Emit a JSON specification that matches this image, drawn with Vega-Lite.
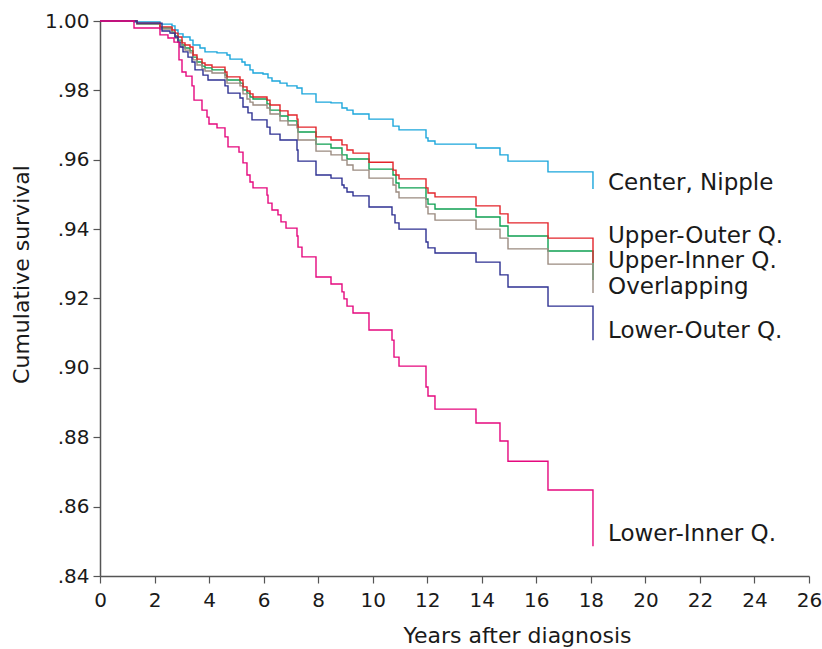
{
  "$schema": "https://vega.github.io/schema/vega-lite/v6.json",
  "width": 709,
  "height": 555,
  "autosize": {"type": "none"},
  "padding": {"left": 100, "top": 21, "right": 13, "bottom": 73},
  "background": "white",
  "config": {
    "view": {"stroke": null},
    "font": "DejaVu Sans",
    "axis": {"grid": false, "domainColor": "#555555", "tickColor": "#555555", "labelColor": "#1a1a1a", "titleColor": "#1a1a1a", "labelFont": "DejaVu Sans", "titleFont": "DejaVu Sans", "titleFontWeight": "normal", "domainWidth": 1.5, "tickWidth": 1.2}
  },
  "datasets": {
    "curves": [
      {"site": "Center, Nipple", "year": 0, "surv": 1},
      {"site": "Center, Nipple", "year": 1.247, "surv": 0.9997},
      {"site": "Center, Nipple", "year": 2.2, "surv": 0.9991},
      {"site": "Center, Nipple", "year": 2.64, "surv": 0.9986},
      {"site": "Center, Nipple", "year": 2.75, "surv": 0.9974},
      {"site": "Center, Nipple", "year": 2.86, "surv": 0.9963},
      {"site": "Center, Nipple", "year": 3.044, "surv": 0.9954},
      {"site": "Center, Nipple", "year": 3.3, "surv": 0.9945},
      {"site": "Center, Nipple", "year": 3.41, "surv": 0.9931},
      {"site": "Center, Nipple", "year": 3.667, "surv": 0.9922},
      {"site": "Center, Nipple", "year": 3.85, "surv": 0.9911},
      {"site": "Center, Nipple", "year": 4.29, "surv": 0.9908},
      {"site": "Center, Nipple", "year": 4.657, "surv": 0.9902},
      {"site": "Center, Nipple", "year": 4.767, "surv": 0.989},
      {"site": "Center, Nipple", "year": 5.207, "surv": 0.9882},
      {"site": "Center, Nipple", "year": 5.317, "surv": 0.9873},
      {"site": "Center, Nipple", "year": 5.501, "surv": 0.9859},
      {"site": "Center, Nipple", "year": 5.611, "surv": 0.985},
      {"site": "Center, Nipple", "year": 5.977, "surv": 0.9847},
      {"site": "Center, Nipple", "year": 6.161, "surv": 0.9836},
      {"site": "Center, Nipple", "year": 6.307, "surv": 0.9827},
      {"site": "Center, Nipple", "year": 6.601, "surv": 0.9821},
      {"site": "Center, Nipple", "year": 6.857, "surv": 0.9813},
      {"site": "Center, Nipple", "year": 7.224, "surv": 0.9807},
      {"site": "Center, Nipple", "year": 7.407, "surv": 0.979},
      {"site": "Center, Nipple", "year": 7.921, "surv": 0.9766},
      {"site": "Center, Nipple", "year": 8.471, "surv": 0.9764},
      {"site": "Center, Nipple", "year": 8.874, "surv": 0.9749},
      {"site": "Center, Nipple", "year": 9.058, "surv": 0.9743},
      {"site": "Center, Nipple", "year": 9.278, "surv": 0.9732},
      {"site": "Center, Nipple", "year": 9.864, "surv": 0.9717},
      {"site": "Center, Nipple", "year": 10.745, "surv": 0.9697},
      {"site": "Center, Nipple", "year": 10.965, "surv": 0.9686},
      {"site": "Center, Nipple", "year": 11.955, "surv": 0.9663},
      {"site": "Center, Nipple", "year": 12.028, "surv": 0.9654},
      {"site": "Center, Nipple", "year": 12.284, "surv": 0.9645},
      {"site": "Center, Nipple", "year": 13.788, "surv": 0.9634},
      {"site": "Center, Nipple", "year": 14.668, "surv": 0.9614},
      {"site": "Center, Nipple", "year": 14.961, "surv": 0.9596},
      {"site": "Center, Nipple", "year": 16.428, "surv": 0.9565},
      {"site": "Center, Nipple", "year": 18.078, "surv": 0.9516},

      {"site": "Upper-Inner Q.", "year": 0, "surv": 1},
      {"site": "Upper-Inner Q.", "year": 1.357, "surv": 0.9991},
      {"site": "Upper-Inner Q.", "year": 2.2, "surv": 0.998},
      {"site": "Upper-Inner Q.", "year": 2.64, "surv": 0.9968},
      {"site": "Upper-Inner Q.", "year": 2.75, "surv": 0.9957},
      {"site": "Upper-Inner Q.", "year": 2.86, "surv": 0.9945},
      {"site": "Upper-Inner Q.", "year": 3.007, "surv": 0.9931},
      {"site": "Upper-Inner Q.", "year": 3.117, "surv": 0.9922},
      {"site": "Upper-Inner Q.", "year": 3.3, "surv": 0.9914},
      {"site": "Upper-Inner Q.", "year": 3.41, "surv": 0.9896},
      {"site": "Upper-Inner Q.", "year": 3.557, "surv": 0.9882},
      {"site": "Upper-Inner Q.", "year": 3.741, "surv": 0.987},
      {"site": "Upper-Inner Q.", "year": 3.851, "surv": 0.9865},
      {"site": "Upper-Inner Q.", "year": 4.107, "surv": 0.9859},
      {"site": "Upper-Inner Q.", "year": 4.584, "surv": 0.9844},
      {"site": "Upper-Inner Q.", "year": 4.657, "surv": 0.983},
      {"site": "Upper-Inner Q.", "year": 5.134, "surv": 0.9821},
      {"site": "Upper-Inner Q.", "year": 5.244, "surv": 0.9801},
      {"site": "Upper-Inner Q.", "year": 5.391, "surv": 0.9792},
      {"site": "Upper-Inner Q.", "year": 5.501, "surv": 0.9781},
      {"site": "Upper-Inner Q.", "year": 5.611, "surv": 0.9775},
      {"site": "Upper-Inner Q.", "year": 6.124, "surv": 0.9761},
      {"site": "Upper-Inner Q.", "year": 6.234, "surv": 0.9743},
      {"site": "Upper-Inner Q.", "year": 6.601, "surv": 0.9726},
      {"site": "Upper-Inner Q.", "year": 6.894, "surv": 0.9712},
      {"site": "Upper-Inner Q.", "year": 7.224, "surv": 0.97},
      {"site": "Upper-Inner Q.", "year": 7.261, "surv": 0.968},
      {"site": "Upper-Inner Q.", "year": 7.921, "surv": 0.9645},
      {"site": "Upper-Inner Q.", "year": 8.471, "surv": 0.9634},
      {"site": "Upper-Inner Q.", "year": 8.874, "surv": 0.9614},
      {"site": "Upper-Inner Q.", "year": 9.058, "surv": 0.9602},
      {"site": "Upper-Inner Q.", "year": 9.865, "surv": 0.9573},
      {"site": "Upper-Inner Q.", "year": 10.745, "surv": 0.9556},
      {"site": "Upper-Inner Q.", "year": 10.855, "surv": 0.9533},
      {"site": "Upper-Inner Q.", "year": 10.965, "surv": 0.9519},
      {"site": "Upper-Inner Q.", "year": 11.955, "surv": 0.9487},
      {"site": "Upper-Inner Q.", "year": 12.028, "surv": 0.9472},
      {"site": "Upper-Inner Q.", "year": 12.285, "surv": 0.9458},
      {"site": "Upper-Inner Q.", "year": 13.789, "surv": 0.9435},
      {"site": "Upper-Inner Q.", "year": 14.669, "surv": 0.9409},
      {"site": "Upper-Inner Q.", "year": 14.962, "surv": 0.938},
      {"site": "Upper-Inner Q.", "year": 16.429, "surv": 0.9337},
      {"site": "Upper-Inner Q.", "year": 18.079, "surv": 0.9253},

      {"site": "Overlapping", "year": 0, "surv": 1},
      {"site": "Overlapping", "year": 1.357, "surv": 0.9991},
      {"site": "Overlapping", "year": 2.2, "surv": 0.9977},
      {"site": "Overlapping", "year": 2.64, "surv": 0.9965},
      {"site": "Overlapping", "year": 2.75, "surv": 0.9951},
      {"site": "Overlapping", "year": 2.86, "surv": 0.9939},
      {"site": "Overlapping", "year": 3.007, "surv": 0.9925},
      {"site": "Overlapping", "year": 3.117, "surv": 0.9916},
      {"site": "Overlapping", "year": 3.3, "surv": 0.9908},
      {"site": "Overlapping", "year": 3.41, "surv": 0.9888},
      {"site": "Overlapping", "year": 3.557, "surv": 0.9873},
      {"site": "Overlapping", "year": 3.741, "surv": 0.9862},
      {"site": "Overlapping", "year": 3.851, "surv": 0.9856},
      {"site": "Overlapping", "year": 4.107, "surv": 0.985},
      {"site": "Overlapping", "year": 4.584, "surv": 0.9836},
      {"site": "Overlapping", "year": 4.657, "surv": 0.9821},
      {"site": "Overlapping", "year": 5.134, "surv": 0.9813},
      {"site": "Overlapping", "year": 5.244, "surv": 0.979},
      {"site": "Overlapping", "year": 5.391, "surv": 0.9775},
      {"site": "Overlapping", "year": 5.501, "surv": 0.9766},
      {"site": "Overlapping", "year": 5.611, "surv": 0.9758},
      {"site": "Overlapping", "year": 6.124, "surv": 0.9749},
      {"site": "Overlapping", "year": 6.234, "surv": 0.9732},
      {"site": "Overlapping", "year": 6.601, "surv": 0.9712},
      {"site": "Overlapping", "year": 6.894, "surv": 0.97},
      {"site": "Overlapping", "year": 7.224, "surv": 0.9692},
      {"site": "Overlapping", "year": 7.261, "surv": 0.9657},
      {"site": "Overlapping", "year": 7.921, "surv": 0.9625},
      {"site": "Overlapping", "year": 8.471, "surv": 0.9614},
      {"site": "Overlapping", "year": 8.874, "surv": 0.9599},
      {"site": "Overlapping", "year": 9.058, "surv": 0.9585},
      {"site": "Overlapping", "year": 9.278, "surv": 0.957},
      {"site": "Overlapping", "year": 9.865, "surv": 0.9547},
      {"site": "Overlapping", "year": 10.745, "surv": 0.9527},
      {"site": "Overlapping", "year": 10.855, "surv": 0.9507},
      {"site": "Overlapping", "year": 10.965, "surv": 0.949},
      {"site": "Overlapping", "year": 11.955, "surv": 0.9464},
      {"site": "Overlapping", "year": 12.028, "surv": 0.9444},
      {"site": "Overlapping", "year": 12.285, "surv": 0.9426},
      {"site": "Overlapping", "year": 13.789, "surv": 0.94},
      {"site": "Overlapping", "year": 14.669, "surv": 0.9374},
      {"site": "Overlapping", "year": 14.962, "surv": 0.9343},
      {"site": "Overlapping", "year": 16.429, "surv": 0.9299},
      {"site": "Overlapping", "year": 18.079, "surv": 0.9216},

      {"site": "Upper-Outer Q.", "year": 0, "surv": 1},
      {"site": "Upper-Outer Q.", "year": 1.357, "surv": 0.9994},
      {"site": "Upper-Outer Q.", "year": 2.2, "surv": 0.9983},
      {"site": "Upper-Outer Q.", "year": 2.64, "surv": 0.9974},
      {"site": "Upper-Outer Q.", "year": 2.75, "surv": 0.9965},
      {"site": "Upper-Outer Q.", "year": 2.86, "surv": 0.9954},
      {"site": "Upper-Outer Q.", "year": 3.007, "surv": 0.9937},
      {"site": "Upper-Outer Q.", "year": 3.117, "surv": 0.9931},
      {"site": "Upper-Outer Q.", "year": 3.3, "surv": 0.9925},
      {"site": "Upper-Outer Q.", "year": 3.41, "surv": 0.9902},
      {"site": "Upper-Outer Q.", "year": 3.557, "surv": 0.989},
      {"site": "Upper-Outer Q.", "year": 3.741, "surv": 0.9879},
      {"site": "Upper-Outer Q.", "year": 3.851, "surv": 0.9873},
      {"site": "Upper-Outer Q.", "year": 4.107, "surv": 0.9867},
      {"site": "Upper-Outer Q.", "year": 4.584, "surv": 0.9853},
      {"site": "Upper-Outer Q.", "year": 4.657, "surv": 0.9839},
      {"site": "Upper-Outer Q.", "year": 5.134, "surv": 0.983},
      {"site": "Upper-Outer Q.", "year": 5.244, "surv": 0.981},
      {"site": "Upper-Outer Q.", "year": 5.391, "surv": 0.9798},
      {"site": "Upper-Outer Q.", "year": 5.501, "surv": 0.979},
      {"site": "Upper-Outer Q.", "year": 5.611, "surv": 0.9781},
      {"site": "Upper-Outer Q.", "year": 6.124, "surv": 0.9772},
      {"site": "Upper-Outer Q.", "year": 6.234, "surv": 0.9758},
      {"site": "Upper-Outer Q.", "year": 6.601, "surv": 0.9741},
      {"site": "Upper-Outer Q.", "year": 6.894, "surv": 0.9729},
      {"site": "Upper-Outer Q.", "year": 7.224, "surv": 0.9717},
      {"site": "Upper-Outer Q.", "year": 7.261, "surv": 0.9694},
      {"site": "Upper-Outer Q.", "year": 7.921, "surv": 0.9666},
      {"site": "Upper-Outer Q.", "year": 8.471, "surv": 0.9657},
      {"site": "Upper-Outer Q.", "year": 8.874, "surv": 0.9643},
      {"site": "Upper-Outer Q.", "year": 9.058, "surv": 0.9628},
      {"site": "Upper-Outer Q.", "year": 9.278, "surv": 0.9619},
      {"site": "Upper-Outer Q.", "year": 9.865, "surv": 0.9593},
      {"site": "Upper-Outer Q.", "year": 10.745, "surv": 0.957},
      {"site": "Upper-Outer Q.", "year": 10.855, "surv": 0.9556},
      {"site": "Upper-Outer Q.", "year": 10.965, "surv": 0.9545},
      {"site": "Upper-Outer Q.", "year": 11.955, "surv": 0.9519},
      {"site": "Upper-Outer Q.", "year": 12.028, "surv": 0.9504},
      {"site": "Upper-Outer Q.", "year": 12.285, "surv": 0.9493},
      {"site": "Upper-Outer Q.", "year": 13.789, "surv": 0.9467},
      {"site": "Upper-Outer Q.", "year": 14.669, "surv": 0.9444},
      {"site": "Upper-Outer Q.", "year": 14.962, "surv": 0.9418},
      {"site": "Upper-Outer Q.", "year": 16.429, "surv": 0.9374},
      {"site": "Upper-Outer Q.", "year": 18.079, "surv": 0.9302},

      {"site": "Lower-Outer Q.", "year": 0, "surv": 1},
      {"site": "Lower-Outer Q.", "year": 1.357, "surv": 0.9994},
      {"site": "Lower-Outer Q.", "year": 2.274, "surv": 0.9971},
      {"site": "Lower-Outer Q.", "year": 2.567, "surv": 0.9965},
      {"site": "Lower-Outer Q.", "year": 2.75, "surv": 0.9954},
      {"site": "Lower-Outer Q.", "year": 2.86, "surv": 0.9939},
      {"site": "Lower-Outer Q.", "year": 2.934, "surv": 0.9925},
      {"site": "Lower-Outer Q.", "year": 3.044, "surv": 0.9911},
      {"site": "Lower-Outer Q.", "year": 3.227, "surv": 0.9896},
      {"site": "Lower-Outer Q.", "year": 3.374, "surv": 0.9882},
      {"site": "Lower-Outer Q.", "year": 3.484, "surv": 0.9859},
      {"site": "Lower-Outer Q.", "year": 3.777, "surv": 0.9844},
      {"site": "Lower-Outer Q.", "year": 3.961, "surv": 0.983},
      {"site": "Lower-Outer Q.", "year": 4.584, "surv": 0.9813},
      {"site": "Lower-Outer Q.", "year": 4.694, "surv": 0.9792},
      {"site": "Lower-Outer Q.", "year": 5.134, "surv": 0.9778},
      {"site": "Lower-Outer Q.", "year": 5.244, "surv": 0.9752},
      {"site": "Lower-Outer Q.", "year": 5.427, "surv": 0.9735},
      {"site": "Lower-Outer Q.", "year": 5.574, "surv": 0.9715},
      {"site": "Lower-Outer Q.", "year": 6.124, "surv": 0.9694},
      {"site": "Lower-Outer Q.", "year": 6.234, "surv": 0.9674},
      {"site": "Lower-Outer Q.", "year": 6.601, "surv": 0.9657},
      {"site": "Lower-Outer Q.", "year": 7.224, "surv": 0.9628},
      {"site": "Lower-Outer Q.", "year": 7.261, "surv": 0.9596},
      {"site": "Lower-Outer Q.", "year": 7.921, "surv": 0.9556},
      {"site": "Lower-Outer Q.", "year": 8.471, "surv": 0.9547},
      {"site": "Lower-Outer Q.", "year": 8.874, "surv": 0.9527},
      {"site": "Lower-Outer Q.", "year": 8.948, "surv": 0.9519},
      {"site": "Lower-Outer Q.", "year": 9.058, "surv": 0.9507},
      {"site": "Lower-Outer Q.", "year": 9.278, "surv": 0.9496},
      {"site": "Lower-Outer Q.", "year": 9.865, "surv": 0.9464},
      {"site": "Lower-Outer Q.", "year": 10.708, "surv": 0.9441},
      {"site": "Lower-Outer Q.", "year": 10.818, "surv": 0.9418},
      {"site": "Lower-Outer Q.", "year": 10.965, "surv": 0.94},
      {"site": "Lower-Outer Q.", "year": 11.955, "surv": 0.9363},
      {"site": "Lower-Outer Q.", "year": 12.028, "surv": 0.9346},
      {"site": "Lower-Outer Q.", "year": 12.285, "surv": 0.9331},
      {"site": "Lower-Outer Q.", "year": 13.789, "surv": 0.9305},
      {"site": "Lower-Outer Q.", "year": 14.669, "surv": 0.9268},
      {"site": "Lower-Outer Q.", "year": 14.962, "surv": 0.9233},
      {"site": "Lower-Outer Q.", "year": 16.429, "surv": 0.9178},
      {"site": "Lower-Outer Q.", "year": 18.079, "surv": 0.908},

      {"site": "Lower-Inner Q.", "year": 0, "surv": 1},
      {"site": "Lower-Inner Q.", "year": 1.247, "surv": 0.998},
      {"site": "Lower-Inner Q.", "year": 2.2, "surv": 0.996},
      {"site": "Lower-Inner Q.", "year": 2.493, "surv": 0.9951},
      {"site": "Lower-Inner Q.", "year": 2.714, "surv": 0.9939},
      {"site": "Lower-Inner Q.", "year": 2.897, "surv": 0.9888},
      {"site": "Lower-Inner Q.", "year": 3.007, "surv": 0.9853},
      {"site": "Lower-Inner Q.", "year": 3.154, "surv": 0.9841},
      {"site": "Lower-Inner Q.", "year": 3.374, "surv": 0.9813},
      {"site": "Lower-Inner Q.", "year": 3.447, "surv": 0.9772},
      {"site": "Lower-Inner Q.", "year": 3.74, "surv": 0.9743},
      {"site": "Lower-Inner Q.", "year": 3.924, "surv": 0.9723},
      {"site": "Lower-Inner Q.", "year": 3.997, "surv": 0.9703},
      {"site": "Lower-Inner Q.", "year": 4.291, "surv": 0.9692},
      {"site": "Lower-Inner Q.", "year": 4.584, "surv": 0.9666},
      {"site": "Lower-Inner Q.", "year": 4.694, "surv": 0.9637},
      {"site": "Lower-Inner Q.", "year": 5.097, "surv": 0.9622},
      {"site": "Lower-Inner Q.", "year": 5.244, "surv": 0.9591},
      {"site": "Lower-Inner Q.", "year": 5.39, "surv": 0.9556},
      {"site": "Lower-Inner Q.", "year": 5.501, "surv": 0.9536},
      {"site": "Lower-Inner Q.", "year": 5.611, "surv": 0.9519},
      {"site": "Lower-Inner Q.", "year": 6.124, "surv": 0.9498},
      {"site": "Lower-Inner Q.", "year": 6.161, "surv": 0.9475},
      {"site": "Lower-Inner Q.", "year": 6.307, "surv": 0.9455},
      {"site": "Lower-Inner Q.", "year": 6.527, "surv": 0.9441},
      {"site": "Lower-Inner Q.", "year": 6.637, "surv": 0.9421},
      {"site": "Lower-Inner Q.", "year": 6.821, "surv": 0.9403},
      {"site": "Lower-Inner Q.", "year": 7.224, "surv": 0.938},
      {"site": "Lower-Inner Q.", "year": 7.261, "surv": 0.9348},
      {"site": "Lower-Inner Q.", "year": 7.407, "surv": 0.932},
      {"site": "Lower-Inner Q.", "year": 7.921, "surv": 0.9262},
      {"site": "Lower-Inner Q.", "year": 8.471, "surv": 0.9242},
      {"site": "Lower-Inner Q.", "year": 8.874, "surv": 0.9219},
      {"site": "Lower-Inner Q.", "year": 8.948, "surv": 0.9199},
      {"site": "Lower-Inner Q.", "year": 9.058, "surv": 0.9178},
      {"site": "Lower-Inner Q.", "year": 9.278, "surv": 0.9158},
      {"site": "Lower-Inner Q.", "year": 9.864, "surv": 0.9109},
      {"site": "Lower-Inner Q.", "year": 10.708, "surv": 0.908},
      {"site": "Lower-Inner Q.", "year": 10.781, "surv": 0.9031},
      {"site": "Lower-Inner Q.", "year": 10.965, "surv": 0.9005},
      {"site": "Lower-Inner Q.", "year": 11.955, "surv": 0.8945},
      {"site": "Lower-Inner Q.", "year": 12.028, "surv": 0.8919},
      {"site": "Lower-Inner Q.", "year": 12.284, "surv": 0.8881},
      {"site": "Lower-Inner Q.", "year": 13.788, "surv": 0.8841},
      {"site": "Lower-Inner Q.", "year": 14.668, "surv": 0.8789},
      {"site": "Lower-Inner Q.", "year": 14.961, "surv": 0.8731},
      {"site": "Lower-Inner Q.", "year": 16.428, "surv": 0.8648},
      {"site": "Lower-Inner Q.", "year": 18.078, "surv": 0.8486}
    ],
    "labels": [
      {"site": "Center, Nipple", "year": 18.63, "surv": 0.9533},
      {"site": "Upper-Outer Q.", "year": 18.63, "surv": 0.938},
      {"site": "Upper-Inner Q.", "year": 18.63, "surv": 0.9308},
      {"site": "Overlapping", "year": 18.63, "surv": 0.9233},
      {"site": "Lower-Outer Q.", "year": 18.63, "surv": 0.9106},
      {"site": "Lower-Inner Q.", "year": 18.63, "surv": 0.8521}
    ]
  },
  "layer": [
    {
      "data": {"name": "curves"},
      "mark": {"type": "line", "interpolate": "step-after", "strokeWidth": 1.4},
      "encoding": {
        "x": {
          "field": "year", "type": "quantitative",
          "scale": {"domain": [0, 26], "nice": false, "zero": false},
          "axis": {"values": [0, 2, 4, 6, 8, 10, 12, 14, 16, 18, 20, 22, 24, 26], "title": "Years after diagnosis", "labelFontSize": 20, "titleFontSize": 22, "tickSize": 7, "labelPadding": 7, "labelFlush": false, "titlePadding": 15, "titleX": 417, "titleAnchor": "start", "titleAlign": "center", "format": "d"}
        },
        "y": {
          "field": "surv", "type": "quantitative",
          "scale": {"domain": [0.84, 1.0], "nice": false, "zero": false},
          "axis": {"values": [0.84, 0.86, 0.88, 0.9, 0.92, 0.94, 0.96, 0.98, 1.0], "title": "Cumulative survival", "labelFontSize": 20, "titleFontSize": 22, "tickSize": 7, "labelPadding": 4, "titlePadding": 11, "titleY": 253, "titleAlign": "center", "labelExpr": "datum.value >= 0.999 ? '1.00' : replace(format(datum.value, '.2f'), '0.', '.')"}
        },
        "color": {
          "field": "site", "type": "nominal",
          "scale": {
            "domain": ["Center, Nipple", "Upper-Outer Q.", "Upper-Inner Q.", "Overlapping", "Lower-Outer Q.", "Lower-Inner Q."],
            "range": ["#1ba6dc", "#e3242b", "#0fa052", "#9b8b80", "#2e3192", "#e5087e"]
          },
          "legend": null
        },
        "detail": {"field": "site"}
      }
    },
    {
      "data": {"name": "labels"},
      "mark": {"type": "text", "align": "left", "baseline": "middle", "fontSize": 23, "font": "DejaVu Sans", "color": "#1a1a1a"},
      "encoding": {
        "x": {"field": "year", "type": "quantitative"},
        "y": {"field": "surv", "type": "quantitative"},
        "text": {"field": "site"}
      }
    }
  ]
}
